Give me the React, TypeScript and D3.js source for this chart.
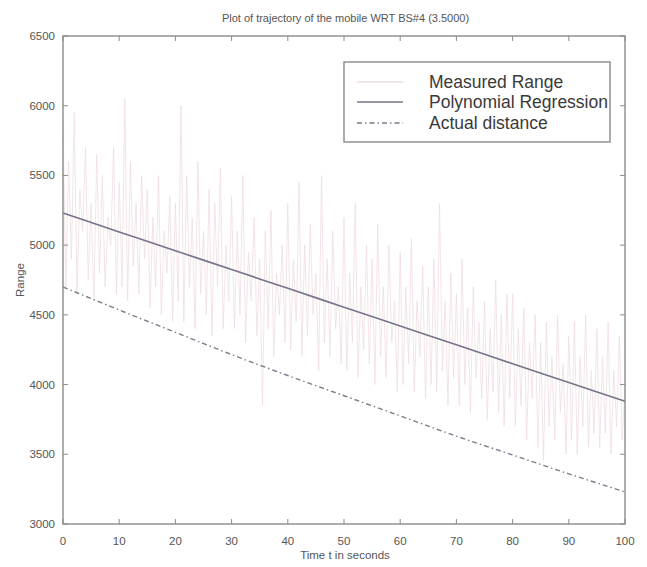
import React from "react";
import * as d3 from "d3";

const title = "Plot of trajectory of the mobile WRT BS#4 (3.5000)";
const xLabel = "Time t in seconds";
const yLabel = "Range";
const xTicks = [0, 10, 20, 30, 40, 50, 60, 70, 80, 90, 100];
const yTicks = [3000, 3500, 4000, 4500, 5000, 5500, 6000, 6500];
const legendLabels = ["Measured Range", "Polynomial Regression", "Actual distance"];

// Measured range sampled every 0.5 s
const measuredStep = 0.5;
const measured = [
  5900, 4700, 5600, 4900, 5950, 4650, 5400, 5100, 5700, 4750,
  5300, 4600, 5650, 4800, 5500, 4700, 5200, 5000, 5700, 4650,
  5450, 4700, 6050, 4600, 5600, 4850, 5300, 4650, 5500, 4900,
  5400, 4550, 5200, 4700, 5500, 4500, 5100, 4800, 5350, 4450,
  5300, 4600, 6000, 4450, 5500, 4700, 5200, 4400, 5600, 4650,
  5100, 4500, 5400, 4350, 5300, 4700, 5550, 4400, 5000, 4600,
  5350, 4400, 5100, 4500, 5500, 4300, 4950, 4600, 5200, 4350,
  4900, 3850, 5100, 4400, 5250, 4200, 4800, 4500, 5000, 4300,
  5300, 4250, 4900, 4450, 5450, 4200, 5000, 4350, 5150, 4500,
  4800, 4100, 5500, 4300, 4900, 4200, 5100, 4400, 4700, 4150,
  5200, 4100, 4800, 4300, 5300, 4050, 4700, 4250, 5000, 4150,
  4900, 4000, 5150, 4200, 4700, 4050, 5000, 4300, 4600, 3950,
  4950, 4000, 4700, 4150, 5050, 3950, 4600, 4200, 4850, 3900,
  4700, 4000, 4900, 3950, 5300, 4100, 4600, 3850, 4800, 4050,
  4650, 3850, 4900, 4000, 4550, 3800, 4700, 4050, 4450, 3900,
  4600, 3750, 4400, 3950, 4750, 3800, 4500, 3700, 4650, 3900,
  4650, 3700, 4400, 3850, 4550, 3600, 4300, 3900, 4500, 3550,
  4300, 3450, 4450, 3700, 4200, 3600, 4500, 3800, 4150, 3500,
  4350, 3600, 4450, 3500, 4200, 3700, 4500, 3550, 4100, 3650,
  4400, 3550, 4200, 3650, 4450, 3500, 4100, 3700, 4350, 3600,
  4000,
];

const fitTimes = [0, 10, 20, 30, 40, 50, 60, 70, 80, 90, 100];
const regression = [5230, 5095, 4960, 4825, 4690, 4555, 4420, 4285, 4150, 4015, 3880];
const actual = [4700, 4535, 4375, 4215, 4065, 3920, 3775, 3630, 3495, 3360, 3230];

const W = 647;
const H = 567;
const M = { left: 63, right: 625, top: 36, bottom: 524 };

export default function App() {
  const x = d3.scaleLinear().domain([0, 100]).range([M.left, M.right]);
  const y = d3.scaleLinear().domain([3000, 6500]).range([M.bottom, M.top]);

  const measuredPath = d3
    .line<number>()
    .x((_, i) => x(i * measuredStep))
    .y((d) => y(d))(measured) as string;

  const fitLine = d3
    .line<number>()
    .x((_, i) => x(fitTimes[i]))
    .y((d) => y(d))
    .curve(d3.curveMonotoneX);

  const axisColor = "#8a8a8a";
  const textColor = "#555";
  const font = "'Liberation Sans', Arial, sans-serif";
  const tickLen = 5;

  const lg = { x: 344, y: 62, w: 266, h: 80 };
  const rowY = [82, 102, 123];

  return (
    <svg
      width={W}
      height={H}
      style={{ position: "absolute", left: 0, top: 0, background: "#fff" }}
      fontFamily={font}
    >
      <rect x={0} y={0} width={W} height={H} fill="#fff" />
      {/* measured */}
      <path d={measuredPath} fill="none" stroke="#f0dde1" strokeWidth={0.8} />
      {/* regression */}
      <path d={fitLine(regression) as string} fill="none" stroke="#74748a" strokeWidth={1.6} />
      {/* actual */}
      <path
        d={fitLine(actual) as string}
        fill="none"
        stroke="#7c7c8a"
        strokeWidth={1.4}
        strokeDasharray="5,3,1.5,3"
      />
      {/* box */}
      <rect
        x={M.left}
        y={M.top}
        width={M.right - M.left}
        height={M.bottom - M.top}
        fill="none"
        stroke={axisColor}
        strokeWidth={1.4}
      />
      {xTicks.map((t) => (
        <g key={"xt" + t}>
          <line x1={x(t)} x2={x(t)} y1={M.bottom} y2={M.bottom - tickLen} stroke={axisColor} />
          <line x1={x(t)} x2={x(t)} y1={M.top} y2={M.top + tickLen} stroke={axisColor} />
          <text x={x(t)} y={545} textAnchor="middle" fontSize={11.5} fill={textColor}>
            {t}
          </text>
        </g>
      ))}
      {yTicks.map((t) => (
        <g key={"yt" + t}>
          <line x1={M.left} x2={M.left + tickLen} y1={y(t)} y2={y(t)} stroke={axisColor} />
          <line x1={M.right} x2={M.right - tickLen} y1={y(t)} y2={y(t)} stroke={axisColor} />
          <text x={55} y={y(t) + 4} textAnchor="end" fontSize={11.5} fill={textColor}>
            {t}
          </text>
        </g>
      ))}
      <text x={W / 2 + 22} y={22} textAnchor="middle" fontSize={11} fill={textColor}>
        {title}
      </text>
      <text x={345} y={559} textAnchor="middle" fontSize={11.5} fill={textColor}>
        {xLabel}
      </text>
      <text
        transform={`translate(24, ${(M.top + M.bottom) / 2}) rotate(-90)`}
        textAnchor="middle"
        fontSize={11.5}
        fill={textColor}
      >
        {yLabel}
      </text>
      {/* legend */}
      <rect x={lg.x} y={lg.y} width={lg.w} height={lg.h} fill="#fff" stroke={axisColor} strokeWidth={1.4} />
      {legendLabels.map((l, i) => (
        <g key={l}>
          <line
            x1={357}
            x2={403}
            y1={rowY[i]}
            y2={rowY[i]}
            stroke={i === 0 ? "#e8c9cf" : i === 1 ? "#74748a" : "#7c7c8a"}
            strokeWidth={i === 0 ? 1.2 : 1.5}
            strokeDasharray={i === 2 ? "5,3,1.5,3" : undefined}
          />
          <text x={429} y={rowY[i] + 6} fontSize={17.5} fill="#3a3a3a">
            {l}
          </text>
        </g>
      ))}
    </svg>
  );
}
